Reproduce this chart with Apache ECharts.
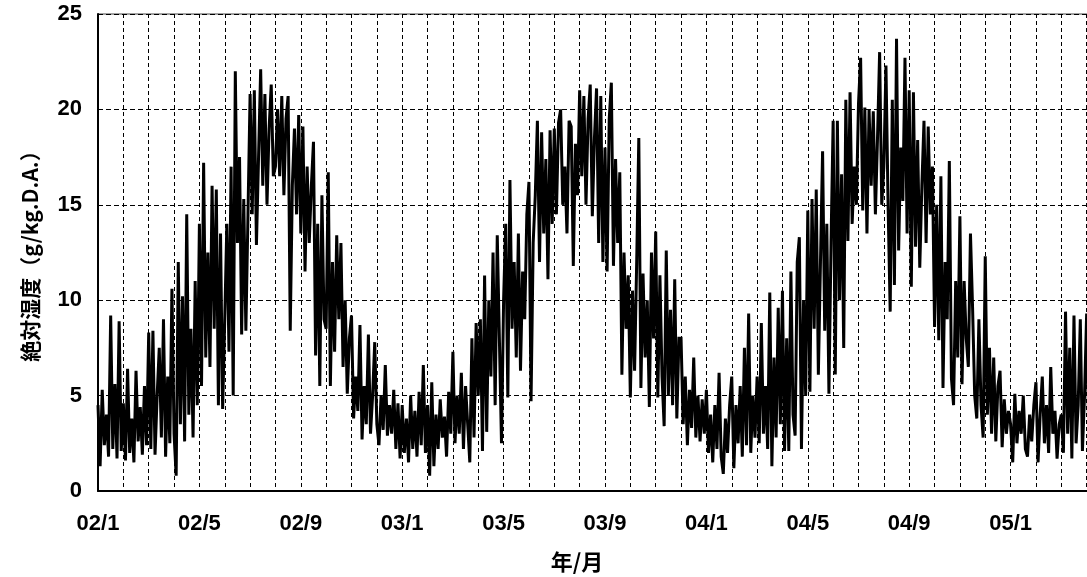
<!DOCTYPE html>
<html>
<head>
<meta charset="utf-8">
<script src="https://cdn.jsdelivr.net/npm/echarts@6/dist/echarts.min.js"></script>
<style>
html,body{margin:0;padding:0;background:#fff;}
#chart{width:1087px;height:577px;}
</style>
</head>
<body>
<div id="chart"></div>
<script>
// Absolute humidity (g/kg D.A.), 12 samples per month
const SAMPLES_PER_MONTH = 12;
const START_YEAR = 2002;

const ah2002 = [
  4.5, 1.3, 5.3, 2.4, 4.0, 1.8, 9.2, 2.2, 5.6, 1.7, 8.9, 2.1,
  4.6, 1.6, 6.4, 2.0, 3.8, 1.5, 6.3, 2.6, 4.4, 1.9, 5.5, 2.4,
  8.3, 2.2, 8.4, 1.9, 5.0, 7.5, 2.8, 9.0, 1.8, 6.0, 2.5, 10.6,
  3.0, 0.8, 12.0, 3.5, 10.2, 2.6, 14.5, 4.0, 8.5, 2.8, 11.0, 4.5,
  14.0, 5.5, 17.2, 7.0, 12.5, 6.5, 16.0, 8.5, 15.8, 4.5, 13.5, 4.3,
  9.0, 14.0, 7.3, 17.0, 5.0, 22.0, 13.0, 17.5, 8.2, 15.3, 8.4, 14.5,
  20.8, 14.5, 21.0, 12.9, 17.5, 22.1, 16.0, 20.8, 15.0, 19.0, 21.3, 16.5,
  17.0, 20.0, 16.5, 20.7, 15.5, 19.5, 20.7, 8.4, 16.0, 19.0, 14.5, 19.7,
  13.5, 19.1, 11.5, 17.0, 13.0, 16.0, 18.3, 7.1, 14.0, 5.5, 15.5, 9.0,
  8.5, 16.7, 5.5, 12.0, 7.3, 13.4, 9.0, 13.0, 6.5, 10.0, 5.1, 8.0,
  9.2, 3.8, 6.0, 4.2, 8.7, 2.7, 5.5, 3.5, 8.2, 3.0, 5.0, 7.8,
  3.5, 2.4, 5.0, 3.2, 6.6, 2.9, 4.5, 3.0, 5.3, 2.2, 4.6, 1.7
];
const ah2003 = [
  4.5, 2.0, 3.8, 1.5, 5.0, 2.2, 4.2, 1.8, 5.2, 2.4, 6.6, 2.0,
  4.5, 0.8, 5.7, 1.3, 4.0, 2.2, 4.8, 2.8, 3.9, 1.8, 5.2, 3.0,
  7.3, 2.5, 5.0, 3.0, 6.2, 2.2, 5.5, 3.5, 1.5, 8.0, 2.8, 8.8,
  5.0, 9.0, 2.1, 11.3, 3.1, 10.0, 6.0, 12.5, 4.5, 13.4, 8.0, 2.5,
  10.0, 14.0, 4.9, 16.3, 8.5, 12.0, 7.0, 13.5, 6.3, 11.5, 9.0, 14.5,
  16.2, 4.7, 13.0, 15.5, 19.4, 12.0, 18.8, 13.5, 17.4, 11.1, 18.9, 14.0,
  19.0, 14.5, 19.3, 20.0, 15.0, 17.0, 13.5, 19.4, 19.1, 11.8, 18.2, 15.5,
  21.0, 16.5, 20.7, 15.0, 19.5, 21.3, 14.4, 18.5, 21.1, 13.0, 20.7, 12.0,
  18.0, 11.5, 19.5, 21.4, 11.8, 17.4, 13.0, 16.7, 6.1, 12.5, 8.5, 11.3,
  4.9, 10.5, 6.3, 12.0, 18.5, 5.4, 11.4, 7.0, 10.0, 4.4, 12.5, 8.0,
  13.6, 4.9, 11.3, 6.0, 3.4, 12.6, 5.0, 9.5, 4.5, 11.1, 3.8, 8.0,
  8.0, 3.5, 6.0, 2.4, 5.3, 3.3, 7.0, 2.8, 5.0, 2.6, 4.8, 3.0
];
const ah2004 = [
  5.3, 2.0, 4.0, 1.5, 4.5, 2.2, 6.2, 1.8, 0.9, 3.8, 2.0, 4.5,
  6.0, 1.2, 4.5, 2.5, 5.5, 1.8, 7.5, 2.4, 9.3, 2.0, 5.0, 2.8,
  6.0, 2.5, 8.8, 3.0, 5.5, 2.2, 10.4, 1.3, 7.0, 2.8, 9.6, 3.5,
  10.5, 2.1, 8.0, 2.1, 11.5, 4.0, 2.9, 12.0, 13.3, 2.2, 10.0, 5.0,
  14.7, 5.2, 15.3, 8.5, 15.8, 6.1, 12.0, 17.8, 8.4, 14.0, 5.1, 13.0,
  19.4, 6.1, 19.4, 10.0, 16.6, 7.5, 20.5, 13.1, 20.9, 14.0, 17.0, 15.0,
  20.3, 22.7, 14.7, 20.1, 13.5, 20.0, 16.0, 19.9, 14.5, 18.5, 23.0, 15.0,
  17.0, 22.3, 15.0, 9.4, 20.5, 10.8, 23.7, 12.6, 18.0, 15.2, 22.7, 13.5,
  21.0, 10.7, 20.9, 12.8, 18.4, 11.7, 16.0, 19.4, 13.0, 19.1, 14.5, 17.0,
  8.6, 15.0, 7.9, 16.5, 5.4, 12.0, 9.0, 17.3, 5.9, 4.5, 11.0, 7.0,
  14.4, 5.6, 11.0, 8.0, 6.5, 13.5, 9.6, 5.0, 3.8, 9.0, 4.5, 2.8,
  12.3, 4.0, 7.5, 3.0, 7.0, 2.6, 5.5, 6.3, 2.3, 4.8, 3.0, 4.2
];
const ah2005 = [
  3.5, 1.5, 5.1, 2.5, 4.2, 3.0, 5.0, 2.2, 1.8, 4.0, 2.6, 4.5,
  5.7, 1.5, 4.0, 6.0, 2.5, 4.5, 2.0, 6.5, 3.0, 4.2, 1.7, 3.5,
  4.0, 2.0, 9.4, 3.0, 7.5, 1.7, 9.2, 2.5, 4.5, 9.0, 2.1, 5.0,
  9.3, 3.0, 5.5, 2.5
];

const xTickLabels = ['02/1','02/5','02/9','03/1','03/5','03/9','04/1','04/5','04/9','05/1'];
const yTicks = [0, 5, 10, 15, 20, 25];

const years = [[2002, ah2002], [2003, ah2003], [2004, ah2004], [2005, ah2005]];
const seriesData = [];
years.forEach(([yr, arr]) => {
  arr.forEach((v, i) => {
    seriesData.push([(yr - START_YEAR) * 12 + i / SAMPLES_PER_MONTH, v]);
  });
});

const chart = echarts.init(document.getElementById('chart'), null, {renderer: 'canvas'});
const labelFont = {fontFamily: 'Liberation Sans, Arial, sans-serif', fontWeight: 'bold', fontSize: 22, color: '#000'};
const cjkFont = '"Noto Sans CJK JP", sans-serif';

chart.setOption({
  animation: false,
  backgroundColor: '#fff',
  grid: {left: 98, top: 14, width: 1014, height: 477, outerBoundsMode: 'none', containLabel: false,
         show: true, borderColor: '#444', borderWidth: 1, backgroundColor: 'transparent'},
  xAxis: {
    type: 'value', min: 0, max: 40, interval: 1,
    axisLine: {show: true, onZero: false, lineStyle: {color: '#000', width: 2}},
    axisTick: {show: false},
    axisLabel: Object.assign({
      margin: 22, showMinLabel: true, showMaxLabel: false, hideOverlap: false,
      formatter: v => (v % 4 === 0 && xTickLabels[v / 4]) ? xTickLabels[v / 4] : ''
    }, labelFont),
    splitLine: {show: true, lineStyle: {color: '#000', width: 1, type: [4, 3]}}
  },
  yAxis: {
    type: 'value', min: yTicks[0], max: yTicks[yTicks.length - 1], interval: 5,
    axisLine: {show: true, lineStyle: {color: '#000', width: 2}},
    axisTick: {show: false},
    axisLabel: Object.assign({margin: 16}, labelFont),
    splitLine: {show: true, lineStyle: {color: '#000', width: 1, type: [5, 3]}}
  },
  series: [{
    type: 'line',
    data: seriesData,
    showSymbol: false,
    symbol: 'none',
    lineStyle: {color: '#000', width: 3, join: 'miter', miterLimit: 3},
    clip: true
  }],
  graphic: [
    {type: 'text', x: 30, y: 251, rotation: Math.PI / 2,
     style: {text: '絶対湿度（g/kg.D.A.）', font: 'bold 21px ' + cjkFont, fill: '#000', textAlign: 'center', textVerticalAlign: 'middle'}},
    {type: 'text', x: 577, y: 562,
     style: {text: '年/月', font: 'bold 22px ' + cjkFont, fill: '#000', textAlign: 'center', textVerticalAlign: 'middle'}}
  ]
});
</script>
</body>
</html>
